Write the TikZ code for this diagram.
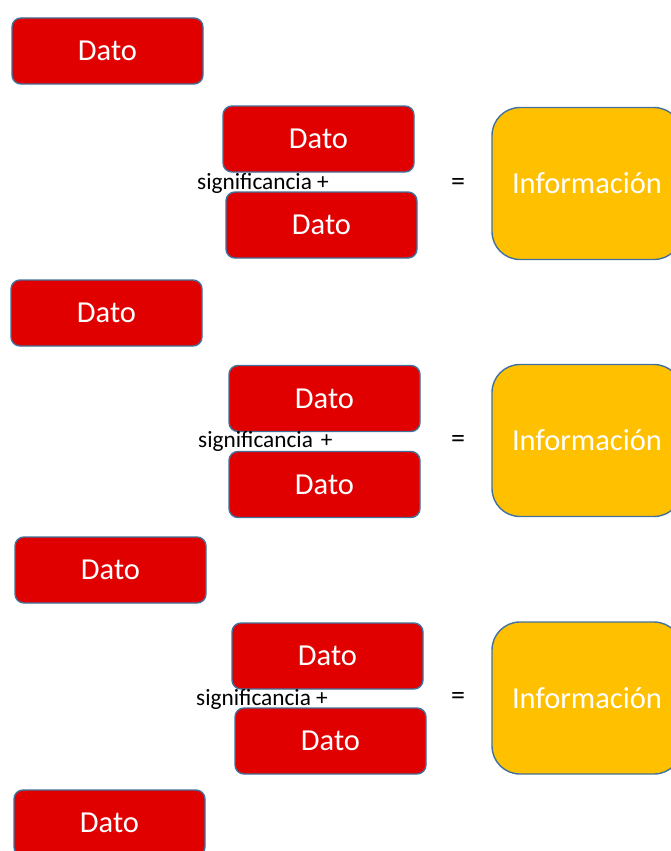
\documentclass[tikz,border=0pt]{standalone}
\usepackage{fontspec}
\setmainfont{Carlito}
\definecolor{datored}{HTML}{E00000}
\definecolor{infoyellow}{HTML}{FFC000}
\definecolor{edgeblue}{HTML}{41719C}
\tikzset{
  datobox/.style={draw=edgeblue, line width=1.4pt, fill=datored, rounded corners=9pt,
    minimum width=191pt, minimum height=66pt, inner sep=0pt, text=white,
    font=\fontsize{30.5}{34}\selectfont},
  infobox/.style={draw=edgeblue, line width=1.4pt, fill=infoyellow, rounded corners=28pt,
    minimum width=190pt, minimum height=152pt, inner sep=0pt, text=white,
    font=\fontsize{30.5}{35}\selectfont},
  sigtext/.style={anchor=base west, inner sep=0pt, font=\fontsize{23.3}{27}\selectfont},
  eqsign/.style={inner sep=0pt, font=\fontsize{28}{32}\selectfont}
}
\begin{document}
\begin{tikzpicture}[x=1pt,y=-1pt]
\useasboundingbox (0,0) rectangle (671,851);

% left column of single data
\node[datobox] (d1) at (107.5,51) {Dato};
\node[datobox] (d2) at (106.5,313) {Dato};
\node[datobox] (d3) at (110.5,570) {Dato};
\node[datobox] (d4) at (109.5,823) {Dato};

% first combination
\node[datobox] (a1) at (318.5,139) {Dato};
\node[datobox] (b1) at (321.5,225) {Dato};
\node[sigtext] (s1) at (197,189) {significancia +};
\node[eqsign] (e1) at (458,184) {=};
\node[infobox] (i1) at (587,183.5) {Información};

% second combination
\node[datobox] (a2) at (324.5,398.5) {Dato};
\node[datobox] (b2) at (324.5,484.5) {Dato};
\node[sigtext] (s2) at (198,447) {significancia\hspace{8pt}+};
\node[eqsign] (e2) at (458,441) {=};
\node[infobox] (i2) at (587,440.5) {Información};

% third combination
\node[datobox] (a3) at (327.5,656) {Dato};
\node[datobox] (b3) at (330.5,741) {Dato};
\node[sigtext] (s3) at (196,705) {significancia +};
\node[eqsign] (e3) at (458,698) {=};
\node[infobox] (i3) at (587,698) {Información};
\end{tikzpicture}
\end{document}
